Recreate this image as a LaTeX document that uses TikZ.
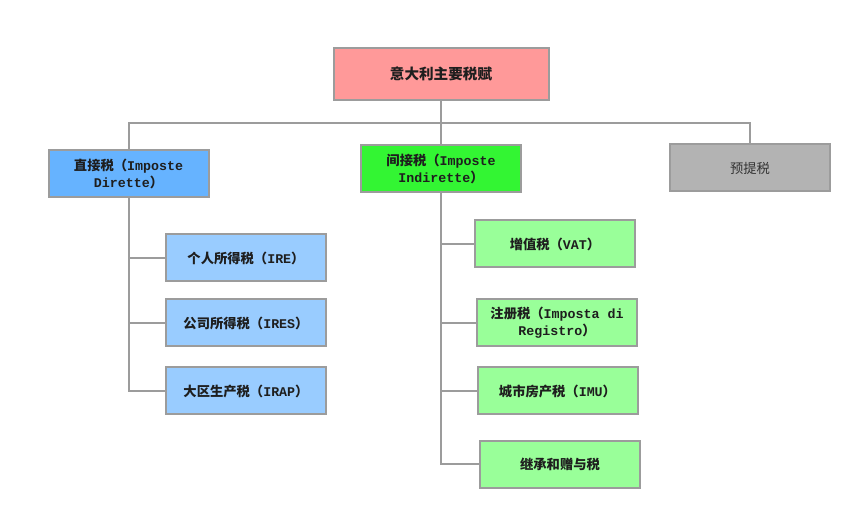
\documentclass[tikz,border=0pt]{standalone}
\usepackage{fontspec}
\newfontfamily\cjk{Noto Sans CJK SC}
\newfontfamily\lat{Liberation Mono}
\definecolor{linegray}{HTML}{9C9C9C}
\definecolor{toppink}{HTML}{FF9999}
\definecolor{dblue}{HTML}{66B3FF}
\definecolor{dgreen}{HTML}{33F533}
\definecolor{dgray}{HTML}{B3B3B3}
\definecolor{lblue}{HTML}{99CCFF}
\definecolor{lgreen}{HTML}{99FF99}
\definecolor{txt}{HTML}{1E1E1E}
\tikzset{
  box/.style={draw=linegray, line width=2pt, rectangle, align=center, inner sep=2pt,
    text=txt, font=\cjk\bfseries\fontsize{13.3}{17}\selectfont,
    minimum width=160pt, minimum height=47pt},
  conn/.style={draw=linegray, line width=2pt}
}
\begin{document}
\begin{tikzpicture}[x=1pt, y=-1pt]
\useasboundingbox (0,0) rectangle (863,521);
\node[box, fill=toppink, minimum width=215pt, minimum height=52pt, font=\cjk\bfseries\fontsize{14.6}{18}\selectfont] (top) at (441,74) {意大利主要税赋};
\node[box, fill=dblue] (dir) at (128.5,173.5) {直接税（{\lat Imposte}\\{\lat Dirette}）};
\node[box, fill=dgreen] (ind) at (441,168.5) {间接税（{\lat Imposte}\\{\lat Indirette}）};
\node[box, fill=dgray, font=\cjk\fontsize{13.3}{17}\selectfont, text=black!80] (wh) at (750,168) {预提税};
\node[box, fill=lblue] (ire) at (246,258) {个人所得税（{\lat IRE}）};
\node[box, fill=lblue] (ires) at (246,323) {公司所得税（{\lat IRES}）};
\node[box, fill=lblue] (irap) at (246,391) {大区生产税（{\lat IRAP}）};
\node[box, fill=lgreen] (vat) at (555,244) {增值税（{\lat VAT}）};
\node[box, fill=lgreen] (reg) at (557,323) {注册税（{\lat Imposta di}\\{\lat Registro}）};
\node[box, fill=lgreen] (imu) at (557.5,391) {城市房产税（{\lat IMU}）};
\node[box, fill=lgreen] (suc) at (560,464.5) {继承和赠与税};
\coordinate (bus) at (441,123);
\draw[conn] (top.south) -- (ind.north);
\draw[conn] (dir.north) |- (bus) -| (wh.north);
\draw[conn] (dir.south) |- (ire.west);
\draw[conn] (dir.south) |- (ires.west);
\draw[conn] (dir.south) |- (irap.west);
\draw[conn] (ind.south) |- (vat.west);
\draw[conn] (ind.south) |- (reg.west);
\draw[conn] (ind.south) |- (imu.west);
\draw[conn] (ind.south) |- (suc.west);
\end{tikzpicture}
\end{document}
